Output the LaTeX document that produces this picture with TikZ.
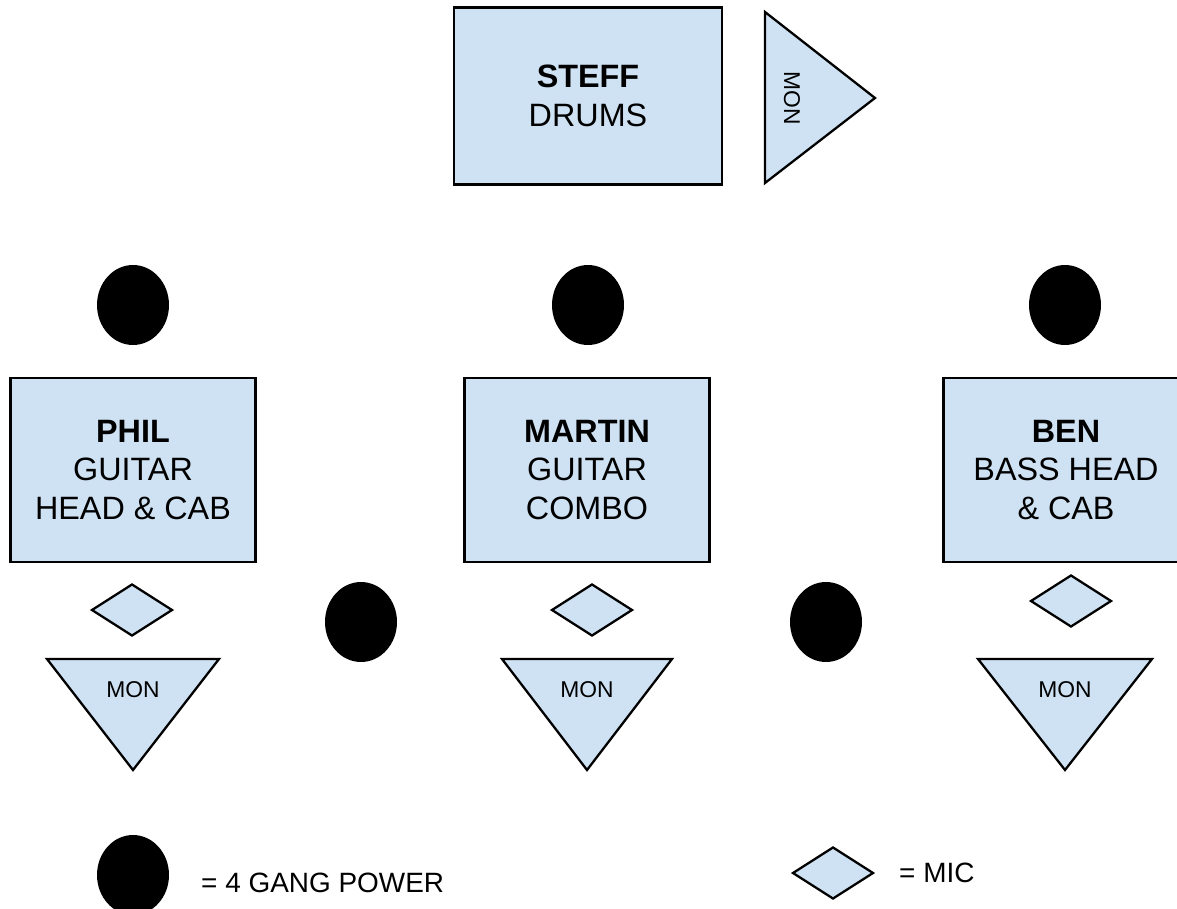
\documentclass[tikz,border=0pt]{standalone}
\usepackage{fontspec}
\setmainfont{Liberation Sans}
\usetikzlibrary{shapes.geometric}
\definecolor{stageblue}{HTML}{CFE2F3}

\begin{document}
\begin{tikzpicture}[x=0.02cm, y=-0.02cm,
        amp/.style={draw, line width=1.3pt, fill=stageblue, align=center,
            minimum width=4.9cm, minimum height=3.68cm, font=\fontsize{18.4}{22}\selectfont},
        power/.style={ellipse, fill=black, minimum width=1.44cm, minimum height=1.6cm, inner sep=0pt},
        mic/.style={diamond, draw, line width=1.3pt, fill=stageblue,
            minimum width=1.62cm, minimum height=1.04cm, inner sep=0pt},
        wedge/.style={draw, line width=1.3pt, fill=stageblue, line join=miter},
        montext/.style={font=\fontsize{13}{15}\selectfont},
        keytext/.style={anchor=west, font=\fontsize{15.9}{18}\selectfont}]
    \useasboundingbox (0,0) rectangle (1177,909);

    % Drum riser
    \node[amp, minimum width=5.36cm, minimum height=3.54cm] (steff) at (588,96) {\textbf{STEFF}\\DRUMS};
    \draw[wedge] (765,12) -- (875,98) -- (765,183) -- cycle;
    \node[montext, rotate=-90] (steffmon) at (792,98) {MON};

    % Power behind the amps
    \node[power] (powerphil) at (133,305) {};
    \node[power] (powermartin) at (588,305) {};
    \node[power] (powerben) at (1065,305) {};

    % Phil
    \node[amp] (phil) at (133,470) {\textbf{PHIL}\\GUITAR\\HEAD \& CAB};
    \node[mic] (philmic) at (132,610) {};
    \draw[wedge] (47,659) -- (219,659) -- (133,770) -- cycle;
    \node[montext] (philmon) at (133,690) {MON};

    % Martin
    \node[amp] (martin) at (587,470) {\textbf{MARTIN}\\GUITAR\\COMBO};
    \node[mic] (martinmic) at (592,610) {};
    \draw[wedge] (502,659) -- (672,659) -- (587,770) -- cycle;
    \node[montext] (martinmon) at (587,690) {MON};

    % Ben
    \node[amp] (ben) at (1066,470) {\textbf{BEN}\\BASS HEAD\\\& CAB};
    \node[mic] (benmic) at (1071,601) {};
    \draw[wedge] (978,659) -- (1152,659) -- (1065,770) -- cycle;
    \node[montext] (benmon) at (1065,690) {MON};

    % Power in between
    \node[power] (powerleft) at (361,622) {};
    \node[power] (powerright) at (826,622) {};

    % Key
    \node[power] (keypower) at (133,875) {};
    \node[keytext] (keypowertext) at (195,883) {= 4 GANG POWER};
    \node[mic] (keymic) at (833,873) {};
    \node[keytext] (keymictext) at (893,873) {= MIC};
\end{tikzpicture}
\end{document}
